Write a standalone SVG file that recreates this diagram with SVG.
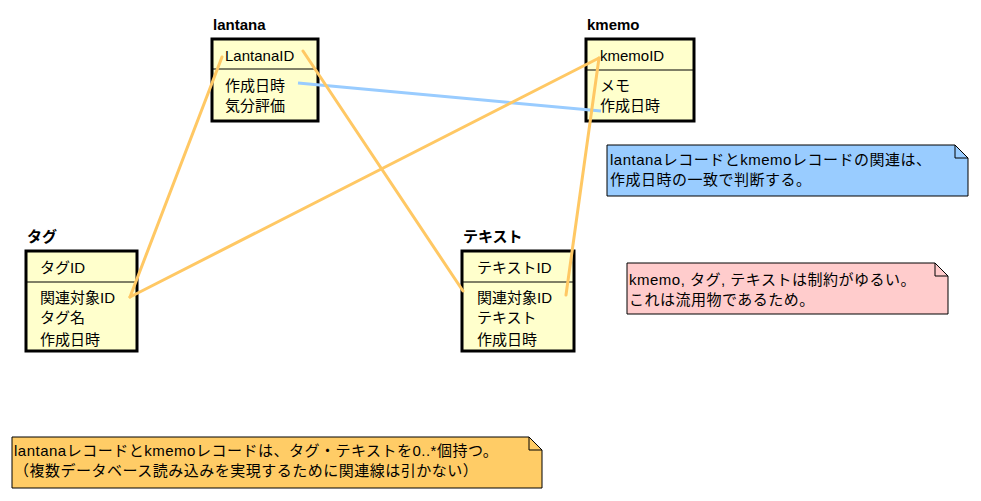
<svg xmlns="http://www.w3.org/2000/svg" width="981" height="501" viewBox="0 0 981 501">
<style>
.t{font-family:"Liberation Sans","Noto Sans CJK JP",sans-serif;font-size:15px;fill:#000}
.n{letter-spacing:0.5px}
.title{font-family:"Liberation Sans","Noto Sans CJK JP",sans-serif;font-size:15px;font-weight:bold;fill:#000}
.box{fill:#FFFFCC;stroke:#000;stroke-width:3}
.div{stroke:#000;stroke-width:1}
.rel{stroke:#FFC864;stroke-width:3;fill:none;stroke-linecap:round}
.blue{stroke:#99CCFF;stroke-width:3;fill:none}
.note{stroke:#000;stroke-width:1}
</style>
<rect width="981" height="501" fill="#fff"/>
<g id="lantana">
<text class="title" x="213" y="30">lantana</text>
<rect class="box" x="212" y="39" width="106" height="82"/>
<line class="div" x1="212" y1="69" x2="318" y2="69"/>
<text class="t" x="225" y="61">LantanaID</text>
<text class="t" x="225" y="91">作成日時</text>
<text class="t" x="225" y="111">気分評価</text>
</g>
<g id="kmemo">
<text class="title" x="587" y="30">kmemo</text>
<rect class="box" x="586" y="39" width="108" height="82"/>
<line class="div" x1="586" y1="70" x2="694" y2="70"/>
<text class="t" x="600" y="61">kmemoID</text>
<text class="t" x="600" y="91">メモ</text>
<text class="t" x="600" y="111">作成日時</text>
</g>
<g id="tag">
<text class="title" x="27" y="242">タグ</text>
<rect class="box" x="26" y="251" width="111" height="100"/>
<line class="div" x1="26" y1="282" x2="137" y2="282"/>
<text class="t" x="40" y="273">タグID</text>
<text class="t" x="40" y="303">関連対象ID</text>
<text class="t" x="40" y="323">タグ名</text>
<text class="t" x="40" y="345">作成日時</text>
</g>
<g id="text">
<text class="title" x="463" y="242">テキスト</text>
<rect class="box" x="462" y="251" width="112" height="100"/>
<line class="div" x1="462" y1="282" x2="574" y2="282"/>
<text class="t" x="477" y="273">テキストID</text>
<text class="t" x="477" y="303">関連対象ID</text>
<text class="t" x="477" y="323">テキスト</text>
<text class="t" x="477" y="345">作成日時</text>
</g>
<g id="connectors">
<line class="blue" x1="298" y1="83" x2="601" y2="111"/>
<line class="rel" x1="222" y1="57" x2="130" y2="297"/>
<line class="rel" x1="599" y1="58" x2="130" y2="297"/>
<line class="rel" x1="303" y1="51" x2="463" y2="291"/>
<line class="rel" x1="599" y1="58" x2="566" y2="295"/>
</g>
<g id="note-relation">
<path class="note" fill="#99CCFF" d="M607 145 H955 L968 158 V196 H607 Z"/>
<path class="note" fill="none" d="M955 145 V158 H968"/>
<text class="t n" x="610" y="165">lantanaレコードとkmemoレコードの関連は、</text>
<text class="t n" x="610" y="185">作成日時の一致で判断する。</text>
</g>
<g id="note-constraint">
<path class="note" fill="#FFCCCC" d="M627 263 H935 L948 276 V314 H627 Z"/>
<path class="note" fill="none" d="M935 263 V276 H948"/>
<text class="t n" x="629" y="285">kmemo, タグ, テキストは制約がゆるい。</text>
<text class="t n" x="629" y="305">これは流用物であるため。</text>
</g>
<g id="note-records">
<path class="note" fill="#FFCC66" d="M12 437 H529 L542 450 V488 H12 Z"/>
<path class="note" fill="none" d="M529 437 V450 H542"/>
<text class="t n" x="14" y="456">lantanaレコードとkmemoレコードは、タグ・テキストを0..*個持つ。</text>
<text class="t n" x="14" y="476">（複数データベース読み込みを実現するために関連線は引かない）</text>
</g>
</svg>
